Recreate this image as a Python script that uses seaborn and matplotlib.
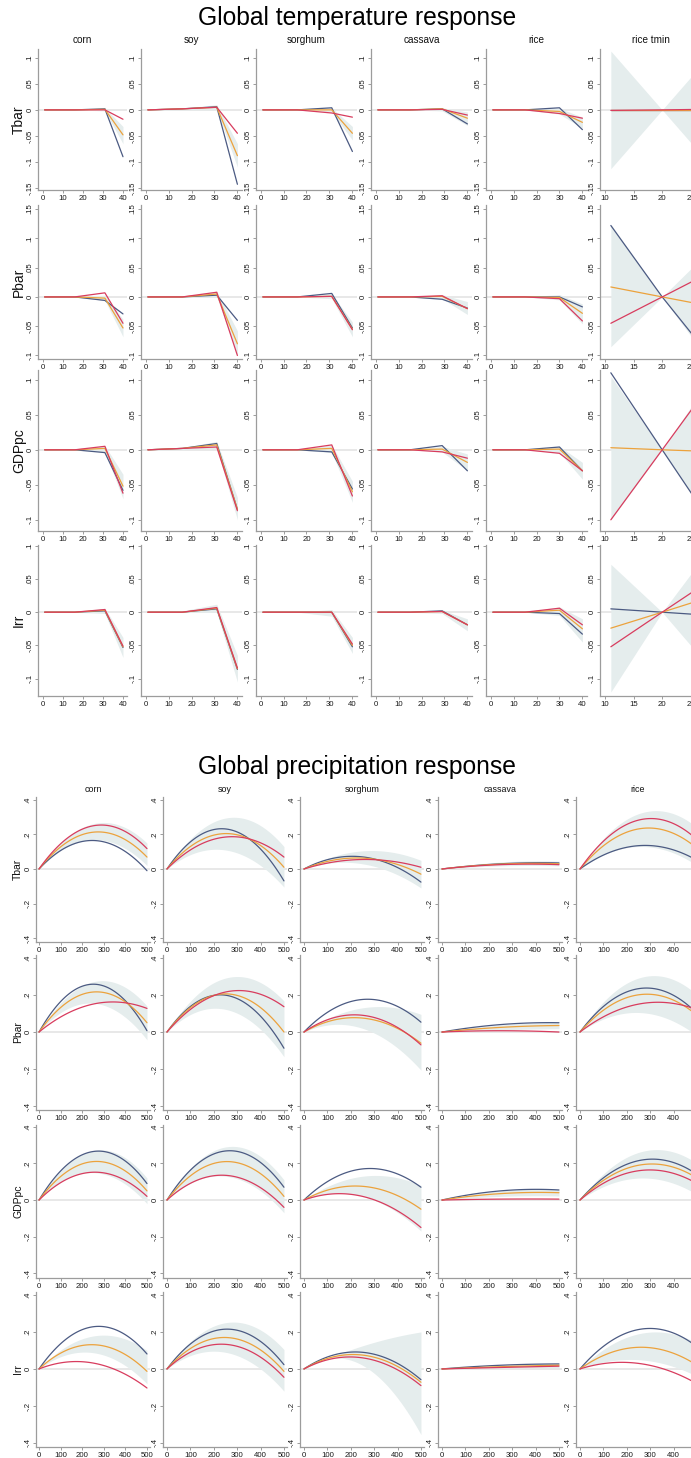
import numpy as np
import pandas as pd
import matplotlib
matplotlib.use("Agg")
import matplotlib.pyplot as plt
import seaborn as sns

sns.set_theme(style="white")
plt.rcParams["font.family"] = ["Liberation Sans", "DejaVu Sans"]

# ---------------------------------------------------------------- data
MODERATORS = ["Tbar", "Pbar", "GDPpc", "Irr"]
SERIES = ["low", "mid", "high"]

# ---- temperature response (piecewise linear, knots per crop)
TEMP_CROPS = ["corn", "soy", "sorghum", "cassava", "rice", "rice tmin"]
TEMP_KNOTS = {
    "corn": [1, 16, 31, 40],
    "soy": [1, 16, 31, 40],
    "sorghum": [1, 16, 31, 40],
    "cassava": [1, 15, 29, 40],
    "rice": [1, 15, 30, 40],
    "rice tmin": [11, 20, 27],
}
temp_low = {
    "Tbar":  [[0, 0, .002, -.090], [0, .002, .006, -.143], [0, 0, .004, -.080],
              [0, 0, .002, -.027], [0, 0, .004, -.038], [0, 0, 0]],
    "Pbar":  [[0, 0, -.006, -.029], [0, 0, .003, -.040], [0, 0, .006, -.053],
              [0, 0, -.004, -.019], [0, 0, 0, -.017], [.122, 0, -.085]],
    "GDPpc": [[0, 0, -.004, -.058], [0, .002, .009, -.085], [0, 0, -.003, -.056],
              [0, 0, .006, -.030], [0, 0, .004, -.030], [.110, 0, -.085]],
    "Irr":   [[0, 0, .002, -.053], [0, 0, .005, -.086], [0, 0, 0, -.052],
              [0, 0, .002, -.019], [0, 0, -.002, -.033], [.005, 0, -.004]],
}
temp_mid = {
    "Tbar":  [[0, 0, .001, -.048], [0, .002, .005, -.088], [0, 0, 0, -.045],
              [0, 0, .002, -.016], [0, 0, -.003, -.024], [0, 0, 0]],
    "Pbar":  [[0, 0, -.002, -.053], [0, 0, .005, -.080], [0, 0, .001, -.055],
              [0, 0, .001, -.020], [0, 0, -.001, -.028], [.017, 0, -.013]],
    "GDPpc": [[0, 0, .002, -.052], [0, .002, .007, -.085], [0, 0, .002, -.060],
              [0, 0, .001, -.018], [0, 0, .001, -.030], [.003, 0, -.002]],
    "Irr":   [[0, 0, .003, -.052], [0, 0, .006, -.085], [0, 0, 0, -.050],
              [0, 0, .001, -.019], [0, 0, .003, -.025], [-.024, 0, .019]],
}
temp_high = {
    "Tbar":  [[0, 0, 0, -.018], [0, .002, .005, -.045], [0, 0, -.006, -.014],
              [0, 0, .001, -.010], [0, 0, -.007, -.016], [-.001, 0, .001]],
    "Pbar":  [[0, 0, .007, -.045], [0, 0, .008, -.100], [0, 0, .001, -.056],
              [0, 0, .002, -.020], [0, 0, -.003, -.041], [-.045, 0, .035]],
    "GDPpc": [[0, 0, .005, -.062], [0, .002, .004, -.087], [0, 0, .007, -.066],
              [0, 0, -.003, -.012], [0, 0, -.005, -.030], [-.100, 0, .078]],
    "Irr":   [[0, 0, .004, -.051], [0, 0, .007, -.084], [0, 0, 0, -.048],
              [0, 0, .001, -.019], [0, 0, .006, -.019], [-.052, 0, .040]],
}
temp_ci_lo = {
    "Tbar":  [[0, 0, -.002, -.065], [0, 0, 0, -.110], [0, 0, -.004, -.058],
              [0, 0, -.002, -.030], [0, 0, -.008, -.035], [-.113, 0, -.088]],
    "Pbar":  [[0, 0, -.006, -.068], [0, 0, 0, -.100], [0, 0, -.003, -.068],
              [0, 0, -.003, -.030], [0, 0, -.005, -.046], [-.085, 0, -.093]],
    "GDPpc": [[0, 0, -.003, -.070], [0, 0, .002, -.100], [0, 0, -.004, -.075],
              [0, 0, -.003, -.030], [0, 0, -.004, -.042], [-.100, 0, -.085]],
    "Irr":   [[0, 0, -.002, -.068], [0, 0, 0, -.105], [0, 0, -.006, -.062],
              [0, 0, -.002, -.028], [0, 0, -.005, -.045], [-.120, 0, -.070]],
}
temp_ci_hi = {
    "Tbar":  [[0, 0, .004, -.032], [0, .003, .010, -.065], [0, 0, .004, -.032],
              [0, 0, .004, -.004], [0, 0, .003, -.014], [.113, 0, .088]],
    "Pbar":  [[0, 0, .003, -.038], [0, 0, .010, -.058], [0, 0, .005, -.043],
              [0, 0, .004, -.008], [0, 0, .004, -.012], [.124, 0, .067]],
    "GDPpc": [[0, 0, .006, -.035], [0, .003, .012, -.068], [0, 0, .007, -.045],
              [0, 0, .005, -.006], [0, 0, .005, -.018], [.105, 0, .085]],
    "Irr":   [[0, 0, .006, -.038], [0, .002, .012, -.065], [0, 0, .004, -.038],
              [0, 0, .003, -.010], [0, 0, .008, -.010], [.072, 0, .080]],
}

# ---- precipitation response (quadratic in precipitation, zero at 0 mm);
# each entry is the response at 250 mm and at 500 mm
PREC_CROPS = ["corn", "soy", "sorghum", "cassava", "rice"]
prec_low = {
    "Tbar":  [(.165, -.010), (.232, -.069), (.070, -.076), (.030, .035), (.135, .050)],
    "Pbar":  [(.257, .007), (.198, -.087), (.175, .053), (.040, .050), (.233, .100)],
    "GDPpc": [(.265, .090), (.268, .070), (.170, .070), (.050, .055), (.215, .140)],
    "Irr":   [(.228, .081), (.215, .023), (.090, -.058), (.020, .027), (.213, .120)],
}
prec_mid = {
    "Tbar":  [(.213, .069), (.205, .010), (.063, -.030), (.028, .030), (.232, .120)],
    "Pbar":  [(.215, .050), (.205, .000), (.075, -.060), (.025, .035), (.200, .090)],
    "GDPpc": [(.210, .050), (.210, .020), (.075, -.050), (.035, .040), (.190, .120)],
    "Irr":   [(.131, -.013), (.170, -.013), (.075, -.072), (.012, .020), (.117, .020)],
}
prec_high = {
    "Tbar":  [(.250, .118), (.185, .069), (.055, .010), (.025, .025), (.283, .170)],
    "Pbar":  [(.150, .127), (.215, .136), (.090, -.069), (.007, .000), (.150, .120)],
    "GDPpc": [(.152, .020), (.135, -.040), (.020, -.150), (.005, .005), (.160, .090)],
    "Irr":   [(.032, -.103), (.133, -.045), (.060, -.090), (.008, .015), (.030, -.080)],
}
prec_ci_lo = {
    "Tbar":  [(.170, .020), (.110, -.105), (.030, -.110), (.018, .018), (.130, .020)],
    "Pbar":  [(.155, -.042), (.122, -.133), (.020, -.205), (.012, .018), (.105, -.020)],
    "GDPpc": [(.150, -.020), (.130, -.070), (.020, -.170), (.020, .022), (.120, .030)],
    "Irr":   [(.088, -.080), (.090, -.120), (.020, -.355), (.004, .008), (.050, -.040)],
}
prec_ci_hi = {
    "Tbar":  [(.262, .150), (.295, .130), (.105, .050), (.040, .045), (.320, .240)],
    "Pbar":  [(.270, .140), (.290, .167), (.130, .095), (.038, .052), (.290, .200)],
    "GDPpc": [(.270, .120), (.290, .110), (.130, .080), (.050, .058), (.260, .200)],
    "Irr":   [(.178, .100), (.250, .105), (.125, .200), (.020, .032), (.190, .140)],
}

# ---------------------------------------------------------------- style
PALETTE = {"low": "#4b5a82", "mid": "#eca23c", "high": "#d83c5e"}
BAND_COLOR = "#e5eded"
ZERO_COLOR = "#e2e2e2"
SPINE_COLOR = "#9c9c9c"

W_PX, H_PX = 691, 1458
fig = plt.figure(figsize=(W_PX / 100, H_PX / 100), dpi=100)


def axes_px(left, top, width, bottom):
    return fig.add_axes([left / W_PX, 1 - bottom / H_PX,
                         width / W_PX, (bottom - top) / H_PX])


def stata_label(v):
    if abs(v) < 1e-12:
        return "0"
    s = f"{v:g}"
    return s.replace("0.", ".")


def style_axes(ax, xticks, yticks, xlim, ylim):
    ax.set_xlim(*xlim)
    ax.set_ylim(*ylim)
    ax.set_xticks(xticks)
    ax.set_xticklabels([f"{t:g}" for t in xticks])
    ax.set_yticks(yticks)
    ax.set_yticklabels([stata_label(t) for t in yticks], rotation=90, va="center")
    for side in ("top", "right"):
        ax.spines[side].set_visible(False)
    for side in ("left", "bottom"):
        ax.spines[side].set_color(SPINE_COLOR)
        ax.spines[side].set_linewidth(0.9)
    ax.tick_params(axis="both", which="both", length=2.2, width=0.7,
                   color=SPINE_COLOR, labelsize=5.6, labelcolor="#1a1a1a", pad=1.2,
                   bottom=True, left=True)
    ax.set_xlabel("")
    ax.set_ylabel("")
    ax.set_facecolor("white")


def draw_panel(ax, x, lo, hi, lines):
    ax.axhline(0, color=ZERO_COLOR, lw=1.1, zorder=0)
    ax.fill_between(x, lo, hi, color=BAND_COLOR, lw=0, zorder=1)
    frame = pd.concat(
        [pd.DataFrame({"x": x, "y": y, "series": name}) for name, y in lines],
        ignore_index=True)
    sns.lineplot(data=frame, x="x", y="y", hue="series", palette=PALETTE,
                 hue_order=SERIES, estimator=None, sort=False, legend=False,
                 linewidth=0.9, ax=ax, zorder=3)


# ---------------------------------------------------------------- temperature block
TEMP_COL_LEFT = [38, 141, 256, 371, 486, 600]
TEMP_COL_WIDTH = [89, 101, 101, 101, 101, 101]
TEMP_XLIM = [(-2.3, 42), (-2, 42), (-2, 42), (-2, 42), (-2, 42), (9.1, 26.8)]
TEMP_XTICKS = [[0, 10, 20, 30, 40]] * 5 + [[10, 15, 20, 25]]
TEMP_ROW_BOX = [(49, 190), (205, 359), (370, 531), (545, 696)]
TEMP_YLIM = [(-0.154, 0.117), (-0.106, 0.157), (-0.116, 0.114), (-0.126, 0.101)]
TEMP_YTICKS = [[-.15, -.1, -.05, 0, .05, .1], [-.1, -.05, 0, .05, .1, .15],
               [-.1, -.05, 0, .05, .1], [-.1, -.05, 0, .05, .1]]

fig.text(357 / W_PX, 1 - 18 / H_PX, "Global temperature response",
         ha="center", va="center", fontsize=17.7, color="black")

for r, mod in enumerate(MODERATORS):
    top, bottom = TEMP_ROW_BOX[r]
    for c, crop in enumerate(TEMP_CROPS):
        ax = axes_px(TEMP_COL_LEFT[c], top, TEMP_COL_WIDTH[c], bottom)
        x = np.array(TEMP_KNOTS[crop], dtype=float)
        draw_panel(ax, x, temp_ci_lo[mod][c], temp_ci_hi[mod][c],
                   [("low", temp_low[mod][c]), ("mid", temp_mid[mod][c]),
                    ("high", temp_high[mod][c])])
        style_axes(ax, TEMP_XTICKS[c], TEMP_YTICKS[r], TEMP_XLIM[c], TEMP_YLIM[r])
        if r == 0:
            ax.set_title(crop, fontsize=7.2, pad=4.5, color="#111111")
    fig.text(19 / W_PX, 1 - (top + bottom) / 2 / H_PX, mod, rotation=90,
             ha="center", va="center", fontsize=10, color="#111111")

# ---------------------------------------------------------------- precipitation block
PREC_COL_LEFT = [36, 163, 300, 438, 576]
PREC_COL_WIDTH = [114, 124, 124, 124, 124]
PREC_XLIM = [(-14, 514)] + [(-17, 513)] * 4
PREC_XTICKS = [0, 100, 200, 300, 400, 500]
PREC_ROW_BOX = [(797, 942), (955, 1110), (1125, 1278), (1292, 1447)]
PREC_YLIM = [(-0.423, 0.417), (-0.419, 0.414), (-0.426, 0.41), (-0.422, 0.416)]
PREC_YTICKS = [-.4, -.2, 0, .2, .4]
precip = np.linspace(0, 500, 101)


def quadratic_response(at250, at500):
    curv = (at500 - 2 * at250) / 125000.0
    slope = (at250 - 62500.0 * curv) / 250.0
    return slope * precip + curv * precip ** 2


fig.text(357 / W_PX, 1 - 767 / H_PX, "Global precipitation response",
         ha="center", va="center", fontsize=17.7, color="black")

for r, mod in enumerate(MODERATORS):
    top, bottom = PREC_ROW_BOX[r]
    for c, crop in enumerate(PREC_CROPS):
        ax = axes_px(PREC_COL_LEFT[c], top, PREC_COL_WIDTH[c], bottom)
        draw_panel(ax, precip,
                   quadratic_response(*prec_ci_lo[mod][c]),
                   quadratic_response(*prec_ci_hi[mod][c]),
                   [("low", quadratic_response(*prec_low[mod][c])),
                    ("mid", quadratic_response(*prec_mid[mod][c])),
                    ("high", quadratic_response(*prec_high[mod][c]))])
        style_axes(ax, PREC_XTICKS, PREC_YTICKS, PREC_XLIM[c], PREC_YLIM[r])
        if r == 0:
            ax.set_title(crop, fontsize=6.4, pad=3.5, color="#111111")
    fig.text(18 / W_PX, 1 - (top + bottom) / 2 / H_PX, mod, rotation=90,
             ha="center", va="center", fontsize=7.5, color="#111111")

fig.savefig("out.png", dpi=100, facecolor="white")
